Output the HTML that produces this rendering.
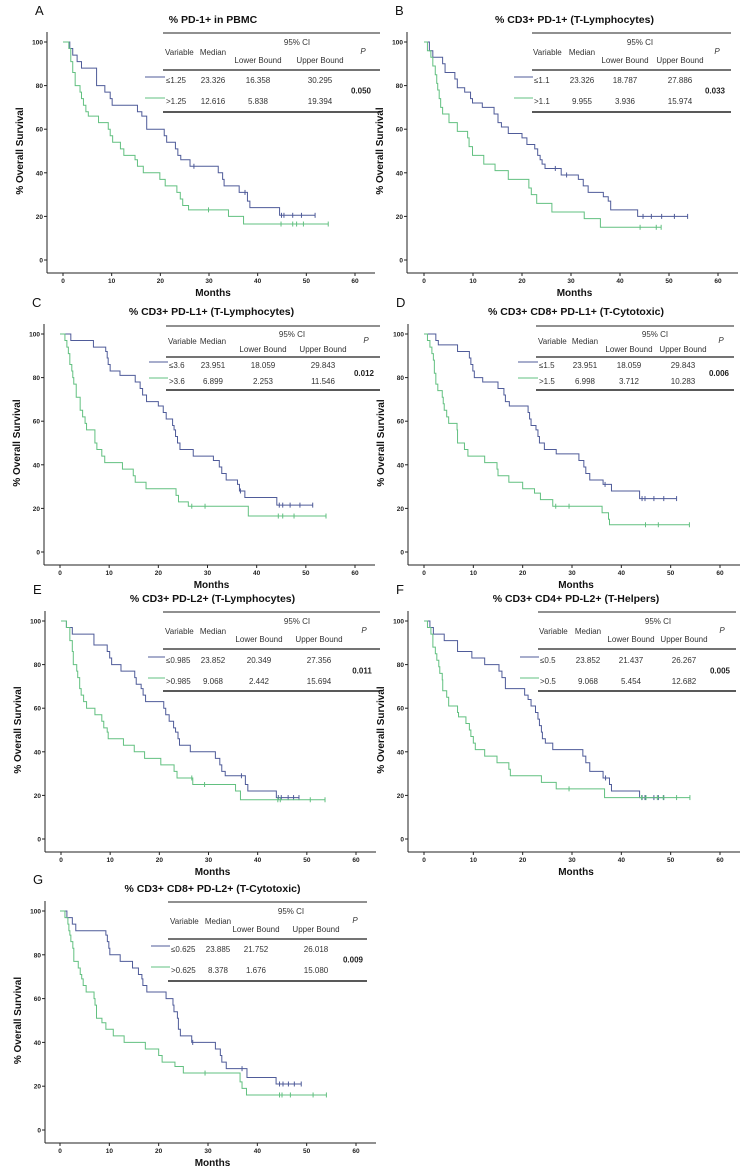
<!DOCTYPE html>
<html><head><meta charset="utf-8">
<style>
html,body{margin:0;padding:0;background:#fff;}
svg{display:block;font-family:"Liberation Sans",Arial,sans-serif;}
</style></head>
<body>
<svg id="fig" width="753" height="1175" viewBox="0 0 753 1175" xmlns="http://www.w3.org/2000/svg"></svg>
<script>
// ---------- DATA ----------
const xTicks = [0,10,20,30,40,50,60];
const yTicks = [0,20,40,60,80,100];

// Panel A
const A_hi_t = [1.4,2.0,2.9,3.8,6.9,8.6,9.7,10.1,15.3,16.2,17.2,20.8,21.3,23.1,23.6,24.2,26.1,31.9,32.8,33.1,36.2,37.9,38.4,44.5];
const A_hi_s = [97,94,91,88,80,77,74,71,68,66,60,57,54,51,48,46,43,40,37,34,31,27,24,20.5];
const A_hi_c = [26.9,37.4,44.9,45.4,47.2,49.0,51.8];
const A_lo_t = [1.2,1.6,2.0,2.5,3.5,3.8,4.2,4.7,5.2,7.3,9.3,9.7,10.2,11.8,12.5,14.8,15.3,16.5,19.9,21.0,23.4,24.1,24.6,25.8,34.0,37.1];
const A_lo_s = [97,91,86,80,77,74,71,68,66,63,60,57,54,51,48,46,43,40,37,34,31,28,25,23,20,16.5];
const A_lo_c = [29.9,44.8,47.2,48.0,49.4,54.5];

// Panel B
const B_hi_t = [1.1,1.8,3.8,4.3,6.3,6.8,8.3,9.5,9.9,11.9,14.3,15.1,15.8,17.2,20.0,21.0,22.6,23.2,23.7,24.1,24.7,28.0,31.5,32.5,33.5,36.6,37.6,38.1,43.6];
const B_hi_s = [96,93,90,86,83,79,77,74,72,70,67,63,61,58,56,53,51,48,46,44,42,39,37,34,31,29,27,23,20];
const B_hi_c = [26.8,29.1,44.7,46.4,48.5,51.1,53.8];
const B_lo_t = [0.7,1.4,1.8,2.3,2.6,2.8,3.1,3.4,3.8,5.1,6.8,8.9,9.2,9.9,12.2,14.5,17.2,21.4,21.9,23.0,26.1,32.7,36.0];
const B_lo_s = [96,93,89,85,81,78,74,70,67,63,59,56,52,48,44,41,37,33,30,26,22,19,15];
const B_lo_c = [44.1,47.4,48.4];

// Panel C
const C_hi_t = [2.2,6.8,9.3,9.6,9.8,10.2,12.2,15.3,16.3,16.8,17.6,20.0,21.0,21.6,22.9,23.2,23.5,23.9,24.4,27.1,31.2,32.4,32.9,33.8,36.1,36.5,37.6,44.1];
const C_hi_s = [97,94,92,89,86,83,81,78,75,72,69,67,64,61,58,56,53,50,47,44,42,39,36,33,31,28,25,21.5];
const C_hi_c = [36.7,44.6,45.3,46.8,48.8,51.4];
const C_lo_t = [1.0,1.4,1.7,2.0,2.4,2.6,2.8,3.3,4.1,4.6,5.1,5.4,7.1,7.5,8.5,9.1,12.7,14.9,15.3,17.5,23.6,24.1,26.1,38.3];
const C_lo_s = [97,94,91,86,83,80,77,71,65,62,59,56,50,47,44,41,38,35,32,29,26,23,21,16.5];
const C_lo_c = [26.8,29.5,44.4,45.3,47.6,54.1];

// Panel D
const D_hi_t = [2.4,2.9,6.8,9.2,9.5,9.9,10.2,11.9,15.0,16.2,16.5,17.3,21.1,21.4,21.7,22.7,23.1,23.4,24.4,26.8,31.4,32.4,32.8,33.6,36.3,38.0,43.7];
const D_hi_s = [97,95,92,89,86,83,80,78,75,72,69,67,64,61,58,56,53,50,47,45,42,39,36,33,31,28,24.5];
const D_hi_c = [36.7,44.2,44.8,46.6,48.6,51.2];
const D_lo_t = [0.7,1.2,1.6,1.9,2.1,2.4,2.8,3.7,3.9,4.1,4.6,5.0,6.7,6.8,8.2,8.9,12.3,14.8,15.0,17.2,20.0,22.4,23.6,26.1,36.1,37.4,37.6];
const D_lo_s = [97,94,91,88,82,77,74,71,68,65,62,59,56,50,47,44,41,38,35,32,29,27,24,21,18,15,12.5];
const D_lo_c = [26.7,29.4,44.9,47.5,53.8];

// Panel E
const E_hi_t = [1.1,2.3,6.7,9.4,9.9,10.3,12.2,15.0,15.3,16.3,16.7,17.2,20.9,21.3,22.0,22.9,23.3,23.8,24.1,26.3,31.4,32.3,32.7,33.4,37.5,38.0,43.8];
const E_hi_s = [97,94,89,86,83,80,77,74,71,69,66,63,60,57,54,51,49,46,43,40,37,34,31,29,25,22,19];
const E_hi_c = [36.7,44.2,44.8,46.2,47.3,48.4];
const E_lo_t = [1.1,1.8,2.3,2.5,3.2,3.4,3.8,4.1,4.6,5.2,6.9,8.3,8.7,9.4,9.6,12.7,14.9,17.0,20.3,23.0,23.6,26.8,35.5,36.5];
const E_lo_s = [97,91,86,80,77,74,69,66,63,60,57,54,51,49,46,43,40,37,34,31,28,25,22,18];
const E_lo_c = [26.6,29.2,44.1,44.6,50.7,53.7];

// Panel F
const F_hi_t = [1.2,1.9,4.1,6.8,9.7,12.3,15.2,15.8,16.5,20.4,21.1,21.7,22.6,23.1,23.4,23.8,24.0,24.6,26.1,32.2,32.8,33.6,36.3,37.6,38.0,43.7];
const F_hi_s = [97,94,91,86,83,80,77,74,69,66,64,61,58,55,52,49,46,44,41,38,35,31,28,25,22,19];
const F_hi_c = [36.8,44.2,44.8,46.6,47.5,48.6];
const F_lo_t = [0.7,1.4,1.8,2.3,2.6,3.0,3.2,3.7,3.8,4.6,5.0,6.8,7.0,8.5,9.2,9.5,10.0,10.4,12.3,14.8,17.2,17.5,23.8,26.8,36.6];
const F_lo_s = [97,94,88,85,82,79,76,73,68,65,61,58,56,53,50,47,44,41,38,35,32,29,26,23,19];
const F_lo_c = [29.4,44.1,45.0,47.3,48.5,51.2,53.9];

// Panel G
const G_hi_t = [1.4,2.5,3.2,9.3,9.6,9.9,10.1,12.2,14.7,15.9,16.6,16.8,17.6,21.5,22.9,23.1,23.8,24.0,24.4,26.7,31.5,32.5,32.8,33.7,37.9,43.8];
const G_hi_s = [97,94,91,89,86,83,80,77,74,71,69,66,63,60,57,54,51,46,43,40,37,34,31,28,24,21];
const G_hi_c = [26.9,36.9,44.5,45.2,46.3,47.5,48.9];
const G_lo_t = [1.0,1.6,1.8,2.0,2.2,2.6,2.8,3.7,4.1,4.4,4.7,5.3,6.9,7.1,7.4,8.5,9.3,10.8,13.0,17.3,20.0,20.7,23.3,25.0,36.5,36.9,37.8];
const G_lo_s = [97,94,91,89,86,83,77,74,71,69,66,63,60,57,51,49,46,43,40,37,34,31,29,26,22,19,16];
const G_lo_c = [29.4,44.5,45.0,46.7,51.3,54.0];

const tableRows = {
  A:[["≤1.25","23.326","16.358","30.295"],[">1.25","12.616","5.838","19.394"]],
  B:[["≤1.1","23.326","18.787","27.886"],[">1.1","9.955","3.936","15.974"]],
  C:[["≤3.6","23.951","18.059","29.843"],[">3.6","6.899","2.253","11.546"]],
  D:[["≤1.5","23.951","18.059","29.843"],[">1.5","6.998","3.712","10.283"]],
  E:[["≤0.985","23.852","20.349","27.356"],[">0.985","9.068","2.442","15.694"]],
  F:[["≤0.5","23.852","21.437","26.267"],[">0.5","9.068","5.454","12.682"]],
  G:[["≤0.625","23.885","21.752","26.018"],[">0.625","8.378","1.676","15.080"]]
};
const pValues = {A:"0.050",B:"0.033",C:"0.012",D:"0.006",E:"0.011",F:"0.005",G:"0.009"};

// ---------- LAYOUT ----------
const panels = [
 {id:"A",title:"% PD-1+ in PBMC",ax:47,x0:63,x60:355,y100:42,y0:260,
  tb:{L:163,R:380,top:33,ci:42,hv:52,hl:60,mid:70,r1:80,r2:101,bot:112,cols:[165,213,258,320,363],ciX:297,legX:145},
  hi:[A_hi_t,A_hi_s,A_hi_c],lo:[A_lo_t,A_lo_s,A_lo_c]},
 {id:"B",title:"% CD3+ PD-1+ (T-Lymphocytes)",ax:407,x0:424,x60:718,y100:42,y0:260,
  tb:{L:532,R:731,top:33,ci:42,hv:52,hl:60,mid:70,r1:80,r2:101,bot:112,cols:[533,582,625,680,717],ciX:640,legX:514},
  hi:[B_hi_t,B_hi_s,B_hi_c],lo:[B_lo_t,B_lo_s,B_lo_c]},
 {id:"C",title:"% CD3+ PD-L1+ (T-Lymphocytes)",ax:44,x0:60,x60:355,y100:334,y0:552,
  tb:{L:166,R:380,top:326,ci:334,hv:341,hl:349,mid:357,r1:365,r2:381,bot:390,cols:[168,213,263,323,366],ciX:292,legX:149},
  hi:[C_hi_t,C_hi_s,C_hi_c],lo:[C_lo_t,C_lo_s,C_lo_c]},
 {id:"D",title:"% CD3+ CD8+ PD-L1+ (T-Cytotoxic)",ax:408,x0:424,x60:720,y100:334,y0:552,
  tb:{L:536,R:734,top:326,ci:334,hv:341,hl:349,mid:357,r1:365,r2:381,bot:390,cols:[538,585,629,683,721],ciX:655,legX:518},
  hi:[D_hi_t,D_hi_s,D_hi_c],lo:[D_lo_t,D_lo_s,D_lo_c]},
 {id:"E",title:"% CD3+ PD-L2+ (T-Lymphocytes)",ax:45,x0:61,x60:356,y100:621,y0:839,
  tb:{L:163,R:380,top:612,ci:621,hv:631,hl:639,mid:649,r1:660,r2:681,bot:691,cols:[165,213,259,319,364],ciX:297,legX:148},
  hi:[E_hi_t,E_hi_s,E_hi_c],lo:[E_lo_t,E_lo_s,E_lo_c]},
 {id:"F",title:"% CD3+ CD4+ PD-L2+  (T-Helpers)",ax:408,x0:424,x60:720,y100:621,y0:839,
  tb:{L:538,R:736,top:612,ci:621,hv:631,hl:639,mid:649,r1:660,r2:681,bot:691,cols:[539,588,631,684,722],ciX:658,legX:520},
  hi:[F_hi_t,F_hi_s,F_hi_c],lo:[F_lo_t,F_lo_s,F_lo_c]},
 {id:"G",title:"% CD3+ CD8+ PD-L2+ (T-Cytotoxic)",ax:45,x0:60,x60:356,y100:911,y0:1130,
  tb:{L:168,R:367,top:902,ci:911,hv:921,hl:929,mid:939,r1:949,r2:970,bot:981,cols:[170,218,256,316,355],ciX:291,legX:151},
  hi:[G_hi_t,G_hi_s,G_hi_c],lo:[G_lo_t,G_lo_s,G_lo_c]}
];
const BLUE="#4f5b99", GREEN="#62c080";
const NS="http://www.w3.org/2000/svg";
const svg=document.getElementById('fig');
function mk(tag,attrs,parent,text){
  const e=document.createElementNS(NS,tag);
  for(const k in attrs) e.setAttribute(k,attrs[k]);
  if(text!==undefined) e.textContent=text;
  (parent||svg).appendChild(e); return e;
}

panels.forEach(p=>{
  const g=mk('g',{});
  
  
  const X=t=>p.x0+(p.x60-p.x0)*t/60;
  const Y=s=>p.y0-(p.y0-p.y100)*s/100;
  const axisY=p.y0+13;
  const xEnd=p.x60+20;
  // letter & title
  const lt=mk('text',{x:p.ax-12,y:p.y100-27,'font-size':13,fill:'#111'},g,p.id);
  
  
  const tt=mk('text',{x:(p.ax+xEnd)/2+2,y:p.y100-19,'font-size':10.5,'font-weight':'bold','text-anchor':'middle',fill:'#111'},g,p.title);
  
  
  // axes
  const ya=mk('line',{x1:p.ax,y1:p.y100-10,x2:p.ax,y2:axisY,stroke:'#222','stroke-width':1},g);
  
  
  const xa=mk('line',{x1:p.ax,y1:axisY,x2:xEnd,y2:axisY,stroke:'#222','stroke-width':1},g);
  
  
  yTicks.forEach(v=>{
    mk('line',{x1:p.ax-3,y1:Y(v),x2:p.ax,y2:Y(v),stroke:'#222'},g);
    const tl=mk('text',{x:p.ax-4,y:Y(v)+2.5,'font-size':6.5,'font-weight':'bold','text-anchor':'end',fill:'#222'},g,String(v));
    
    
  });
  xTicks.forEach(v=>{
    mk('line',{x1:X(v),y1:axisY,x2:X(v),y2:axisY+3,stroke:'#222'},g);
    const tl=mk('text',{x:X(v),y:axisY+10,'font-size':6.5,'font-weight':'bold','text-anchor':'middle',fill:'#222'},g,String(v));
    
    
  });
  const xt=mk('text',{x:(p.ax+xEnd)/2+2,y:axisY+23,'font-size':10,'font-weight':'bold','text-anchor':'middle',fill:'#111'},g,'Months');
  
  
  const cy=(p.y100+p.y0)/2;
  const yt=mk('text',{x:p.ax-24,y:cy,'font-size':10,'font-weight':'bold','text-anchor':'middle',fill:'#111',transform:`rotate(-90 ${p.ax-24} ${cy})`},g,'% Overall Survival');
  
  
  // curves
  [[p.hi,BLUE,'curve-low-group'],[p.lo,GREEN,'curve-high-group']].forEach(([d,col,nm])=>{
    const [ts,ss,cs]=d;
    let path=`M${X(0)} ${Y(100)}`;
    ts.forEach((t,i)=>{path+=` H${X(t)} V${Y(ss[i])}`;});
    const last=Math.max(ts[ts.length-1],cs.length?cs[cs.length-1]:0);
    path+=` H${X(last)}`;
    const pe=mk('path',{d:path,fill:'none',stroke:col,'stroke-width':1},g);
    
    
    cs.forEach(c=>{
      let s=100; ts.forEach((t,i)=>{if(t<=c) s=ss[i];});
      const cm=mk('line',{x1:X(c),y1:Y(s)-2.5,x2:X(c),y2:Y(s)+2.5,stroke:col,'stroke-width':1},g);
      
      
    });
  });
  // table
  const tb=p.tb;
  const tg=mk('g',{'font-size':8,fill:'#333'},g);
  
  
  mk('rect',{x:tb.L,y:tb.top,width:tb.R-tb.L,height:tb.bot-tb.top,fill:'#fff'},tg);
  mk('line',{x1:tb.L,y1:tb.top,x2:tb.R,y2:tb.top,stroke:'#222','stroke-width':1},tg);
  mk('line',{x1:tb.L,y1:tb.mid,x2:tb.R,y2:tb.mid,stroke:'#222','stroke-width':1.2},tg);
  mk('line',{x1:tb.L,y1:tb.bot,x2:tb.R,y2:tb.bot,stroke:'#222','stroke-width':1.6},tg);
  const c=tb.cols;
  mk('text',{x:tb.ciX,y:tb.ci+3,'text-anchor':'middle'},tg,'95% CI');
  mk('text',{x:c[0],y:tb.hv+3},tg,'Variable');
  mk('text',{x:c[1],y:tb.hv+3,'text-anchor':'middle'},tg,'Median');
  mk('text',{x:c[2],y:tb.hl+3,'text-anchor':'middle'},tg,'Lower Bound');
  mk('text',{x:c[3],y:tb.hl+3,'text-anchor':'middle'},tg,'Upper Bound');
  mk('text',{x:c[4],y:tb.hv+2,'text-anchor':'middle','font-style':'italic'},tg,'P');
  const rows=tableRows[p.id];
  [[tb.r1,BLUE],[tb.r2,GREEN]].forEach(([ry,col],i)=>{
    const le=mk('line',{x1:tb.legX,y1:ry-3,x2:c[0],y2:ry-3,stroke:col,'stroke-width':1},g);
    
    
    const r=rows[i];
    mk('text',{x:c[0]+1,y:ry+3},tg,r[0]);
    mk('text',{x:c[1],y:ry+3,'text-anchor':'middle'},tg,r[1]);
    mk('text',{x:c[2],y:ry+3,'text-anchor':'middle'},tg,r[2]);
    mk('text',{x:c[3],y:ry+3,'text-anchor':'middle'},tg,r[3]);
  });
  const pv=mk('text',{x:c[4]-2,y:(tb.r1+tb.r2)/2+3,'text-anchor':'middle','font-weight':'bold',fill:'#222'},tg,pValues[p.id]);
  
  
});
</script>
</body></html>
